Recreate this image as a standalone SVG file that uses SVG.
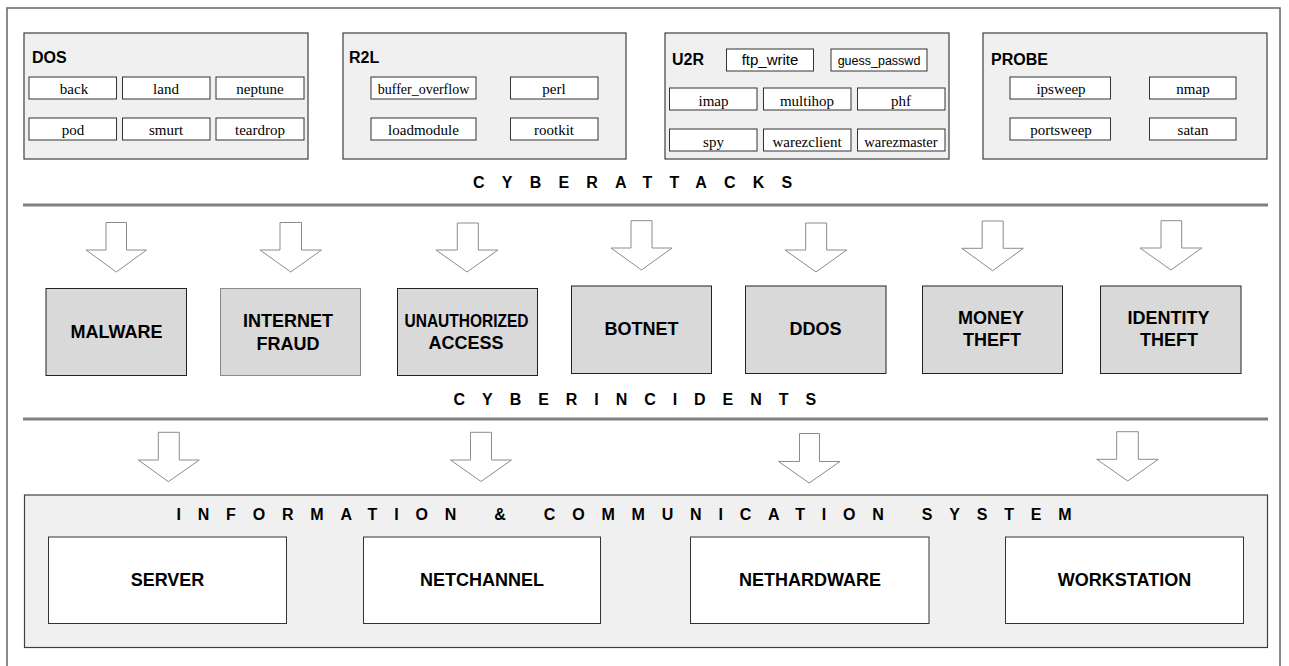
<svg xmlns="http://www.w3.org/2000/svg" width="1289" height="666" viewBox="0 0 1289 666">
  <style>
    .frame { fill: #ffffff; stroke: #666666; stroke-width: 1.5; }
    .group { fill: #f0f0f0; stroke: #404040; stroke-width: 1.2; }
    .item { fill: #ffffff; stroke: #333333; stroke-width: 1; }
    .incident { fill: #d9d9d9; stroke: #222222; stroke-width: 1; }
    .incident-light { fill: #d9d9d9; stroke: #8a8a8a; stroke-width: 1; }
    .asset { fill: #ffffff; stroke: #333333; stroke-width: 1; }
    .sep { stroke: #808080; stroke-width: 3; fill: none; }
    .arrow { fill: #ffffff; stroke: #8c8c8c; stroke-width: 1; }
    .title { font-family: "Liberation Sans", Arial, sans-serif; font-weight: bold; font-size: 16px; fill: #000000; }
    .serif { font-family: "Liberation Serif", "Times New Roman", serif; font-size: 15px; fill: #000000; text-anchor: middle; }
    .sans { font-family: "Liberation Sans", Arial, sans-serif; font-size: 15px; fill: #000000; text-anchor: middle; }
    .band { font-family: "Liberation Sans", Arial, sans-serif; font-weight: bold; font-size: 16px; fill: #000000; }
    .label { font-family: "Liberation Sans", Arial, sans-serif; font-weight: bold; font-size: 18px; fill: #000000; text-anchor: middle; }
  </style>

  <!-- outer frame -->
  <rect class="frame" x="7" y="8" width="1273" height="670"/>

  <!-- attack families -->
  <g id="dos">
    <rect class="group" x="24" y="33" width="284" height="126"/>
    <text class="title" x="32" y="63">DOS</text>
    <rect class="item" x="29" y="77" width="87.5" height="22"/>
    <rect class="item" x="122.5" y="77" width="87.5" height="22"/>
    <rect class="item" x="216" y="77" width="88" height="22"/>
    <rect class="item" x="29" y="118" width="87.5" height="22"/>
    <rect class="item" x="122.5" y="118" width="87.5" height="22"/>
    <rect class="item" x="216" y="118" width="88" height="22"/>
    <text class="serif" x="74" y="94">back</text>
    <text class="serif" x="166" y="94">land</text>
    <text class="serif" x="260" y="94">neptune</text>
    <text class="serif" x="73" y="135">pod</text>
    <text class="serif" x="166" y="135">smurt</text>
    <text class="serif" x="260" y="135">teardrop</text>
  </g>

  <g id="r2l">
    <rect class="group" x="343" y="33" width="283" height="126"/>
    <text class="title" x="349" y="63">R2L</text>
    <rect class="item" x="371" y="77" width="105" height="22"/>
    <rect class="item" x="510.5" y="77" width="87.5" height="22"/>
    <rect class="item" x="371" y="118" width="105" height="22"/>
    <rect class="item" x="510.5" y="118" width="87.5" height="22"/>
    <text class="serif" x="423.5" y="94" style="font-size:14px">buffer_overflow</text>
    <text class="serif" x="554" y="94">perl</text>
    <text class="serif" x="423.5" y="135">loadmodule</text>
    <text class="serif" x="554" y="135">rootkit</text>
  </g>

  <g id="u2r">
    <rect class="group" x="665" y="33" width="284" height="126"/>
    <text class="title" x="672" y="65">U2R</text>
    <rect class="item" x="726.5" y="49" width="87" height="22"/>
    <rect class="item" x="831" y="49" width="96" height="22"/>
    <text class="sans" x="770" y="65">ftp_write</text>
    <text class="sans" x="879" y="64.5" style="font-size:12.5px">guess_passwd</text>
    <rect class="item" x="669.5" y="88" width="87.5" height="22"/>
    <rect class="item" x="763.5" y="88" width="87.5" height="22"/>
    <rect class="item" x="857.5" y="88" width="87.5" height="22"/>
    <rect class="item" x="669.5" y="129" width="87.5" height="22"/>
    <rect class="item" x="763.5" y="129" width="87.5" height="22"/>
    <rect class="item" x="857.5" y="129" width="87.5" height="22"/>
    <text class="serif" x="713.5" y="105.5">imap</text>
    <text class="serif" x="807" y="105.5">multihop</text>
    <text class="serif" x="901" y="105.5">phf</text>
    <text class="serif" x="713.5" y="146.5">spy</text>
    <text class="serif" x="807" y="146.5">warezclient</text>
    <text class="serif" x="901" y="146.5" style="font-size:14.5px">warezmaster</text>
  </g>

  <g id="probe">
    <rect class="group" x="983" y="33" width="284" height="126"/>
    <text class="title" x="991" y="65">PROBE</text>
    <rect class="item" x="1010" y="77" width="100.5" height="22"/>
    <rect class="item" x="1149.5" y="77" width="86.5" height="22"/>
    <rect class="item" x="1010" y="118" width="100.5" height="22"/>
    <rect class="item" x="1149.5" y="118" width="86.5" height="22"/>
    <text class="serif" x="1061" y="94">ipsweep</text>
    <text class="serif" x="1193" y="94">nmap</text>
    <text class="serif" x="1061" y="135">portsweep</text>
    <text class="serif" x="1193" y="135">satan</text>
  </g>

  <g id="band-attacks">
    <text class="band" x="473" y="188" letter-spacing="17.2">CYBERATTACKS</text>
    <line class="sep" x1="23" y1="205" x2="1268" y2="205"/>
  </g>

  <!-- incident nodes -->
  <g id="malware">
    <rect class="incident" x="46" y="288.5" width="140.5" height="87"/>
    <text class="label" x="116.5" y="338">MALWARE</text>
  </g>
  <g id="internet-fraud">
    <rect class="incident-light" x="220.5" y="288.5" width="140" height="87"/>
    <text class="label" x="288" y="327">INTERNET</text>
    <text class="label" x="288" y="349.5">FRAUD</text>
  </g>
  <g id="unauthorized-access">
    <rect class="incident" x="397.5" y="288.5" width="140" height="87"/>
    <text class="label" x="466.5" y="327" textLength="124" lengthAdjust="spacingAndGlyphs">UNAUTHORIZED</text>
    <text class="label" x="466" y="348.5">ACCESS</text>
  </g>
  <g id="botnet">
    <rect class="incident" x="571.5" y="286" width="140" height="87.5"/>
    <text class="label" x="641.5" y="335">BOTNET</text>
  </g>
  <g id="ddos">
    <rect class="incident" x="745.5" y="286" width="140.5" height="87.5"/>
    <text class="label" x="815.5" y="335">DDOS</text>
  </g>
  <g id="money-theft">
    <rect class="incident" x="922.5" y="286" width="140" height="87.5"/>
    <text class="label" x="991" y="324">MONEY</text>
    <text class="label" x="992" y="346">THEFT</text>
  </g>
  <g id="identity-theft">
    <rect class="incident" x="1100.5" y="286" width="140.5" height="87.5"/>
    <text class="label" x="1168.5" y="324">IDENTITY</text>
    <text class="label" x="1169" y="346">THEFT</text>
  </g>

  <g id="band-incidents">
    <text class="band" x="453.5" y="404.5" letter-spacing="16.95">CYBERINCIDENTS</text>
    <line class="sep" x1="23" y1="419" x2="1268" y2="419"/>
  </g>

  <!-- information & communication system -->
  <g id="ics">
    <rect class="group" x="24.5" y="495" width="1243" height="152.5"/>
    <text class="band" x="176.5" y="520" letter-spacing="16.8" style="white-space:pre">INFORMATION &amp; COMMUNICATION SYSTEM</text>
  </g>
  <g id="server">
    <rect class="asset" x="48.5" y="537" width="238" height="86.5"/>
    <text class="label" x="167.5" y="586">SERVER</text>
  </g>
  <g id="netchannel">
    <rect class="asset" x="363.5" y="537" width="237" height="86.5"/>
    <text class="label" x="482" y="586">NETCHANNEL</text>
  </g>
  <g id="nethardware">
    <rect class="asset" x="690.5" y="537" width="238.5" height="86.5"/>
    <text class="label" x="810" y="586">NETHARDWARE</text>
  </g>
  <g id="workstation">
    <rect class="asset" x="1005.5" y="537" width="238" height="86.5"/>
    <text class="label" x="1124.5" y="586">WORKSTATION</text>
  </g>

  <!-- block arrows -->
  <g id="connectors">
    <path class="arrow" d="M106,222.5 H126.5 V250 H146.5 L116.3,272 L86,250 H106 Z"/>
    <path class="arrow" d="M280,222.5 H301.5 V250 H321.5 L290.7,272 L260,250 H280 Z"/>
    <path class="arrow" d="M457.3,223 H478.3 V250 H498 L467,272 L436,250 H457.3 Z"/>
    <path class="arrow" d="M631,220.7 H652 V248 H672 L641.5,270 L611,248 H631 Z"/>
    <path class="arrow" d="M805.7,223 H826.7 V250 H846.7 L816,272 L785,250 H805.7 Z"/>
    <path class="arrow" d="M982.2,221 H1003.2 V248.3 H1023.3 L992.7,270.7 L961.7,248.3 H982.2 Z"/>
    <path class="arrow" d="M1161,220.7 H1181.7 V248 H1201.7 L1171,270 L1140,248 H1161 Z"/>

    <path class="arrow" d="M158.3,432.3 H179.3 V460 H199.3 L168.3,481.7 L138.3,460 H158.3 Z"/>
    <path class="arrow" d="M470.5,432.3 H491.5 V460 H511.5 L481,481.5 L450.5,460 H470.5 Z"/>
    <path class="arrow" d="M799.5,433.5 H819.5 V461.5 H840 L809.2,483 L778.5,461.5 H799.5 Z"/>
    <path class="arrow" d="M1116.7,431.7 H1138.3 V459.3 H1158.3 L1127.7,481 L1096.7,459.3 H1116.7 Z"/>
  </g>
</svg>
